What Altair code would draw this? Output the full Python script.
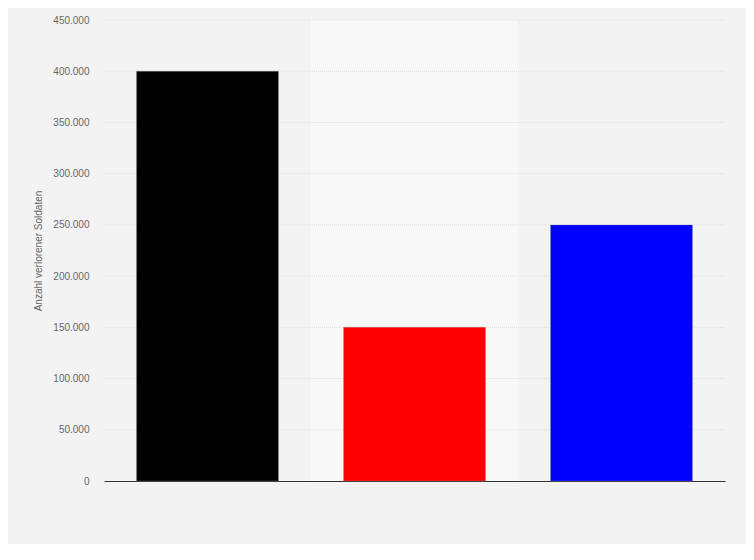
import altair as alt
import pandas as pd

categories = ["Land A", "Land B", "Land C"]
values = [400000, 150000, 250000]
colors = ["#000000", "#ff0000", "#0000ff"]
ticks = [0, 50000, 100000, 150000, 200000, 250000, 300000, 350000, 400000, 450000]

df = pd.DataFrame({"cat": categories, "val": values, "color": colors})
band_df = pd.DataFrame({"cat": [categories[1]]})
grid_df = pd.DataFrame({"val": ticks[1:]})

yscale = alt.Scale(domain=[0, 450000], nice=False)
yaxis = alt.Axis(title="Anzahl verlorener Soldaten", values=ticks,
                 labelExpr="replace(format(datum.value, ',d'), ',', '.')",
                 grid=False,
                 domain=False, ticks=False, labelPadding=15, labelFontSize=10,
                 labelColor="#666666", labelFont="Liberation Sans",
                 titleFont="Liberation Sans", titleFontSize=10, titleFontWeight="normal",
                 titleColor="#666666", titlePadding=9)

bg = alt.Chart(band_df).mark_rect(color="#f8f8f8").encode(
    x=alt.X("cat:N", sort=categories, scale=alt.Scale(domain=categories, paddingInner=0, paddingOuter=0), axis=None),
    y=alt.value(0),
    y2=alt.value(461),
)

grid = alt.Chart(grid_df).mark_rule(color="#dcdcdc", strokeDash=[1, 1], strokeWidth=1).encode(
    y=alt.Y("val:Q", scale=yscale, axis=yaxis),
)

bars = alt.Chart(df).mark_bar(stroke="#999999", strokeWidth=0.5, strokeOpacity=0.6).encode(
    x=alt.X("cat:N", sort=categories,
            scale=alt.Scale(domain=categories, paddingInner=0.314, paddingOuter=0.157),
            axis=alt.Axis(title=None, labels=False, ticks=False, domain=True,
                          domainColor="#333333", domainWidth=1.2, grid=False)),
    y=alt.Y("val:Q", scale=yscale, axis=yaxis),
    color=alt.Color("color:N", scale=None),
)

chart = alt.layer(bg, grid, bars).resolve_scale(x="independent").properties(
    width=621, height=461,
    autosize=alt.AutoSizeParams(type="none"),
    padding={"left": 96, "top": 12, "right": 21, "bottom": 63},
    background="#f3f3f3",
).configure_view(stroke=None, fill="#f3f3f3")

chart.save("out.html", embed_options={"renderer": "svg", "actions": False})
